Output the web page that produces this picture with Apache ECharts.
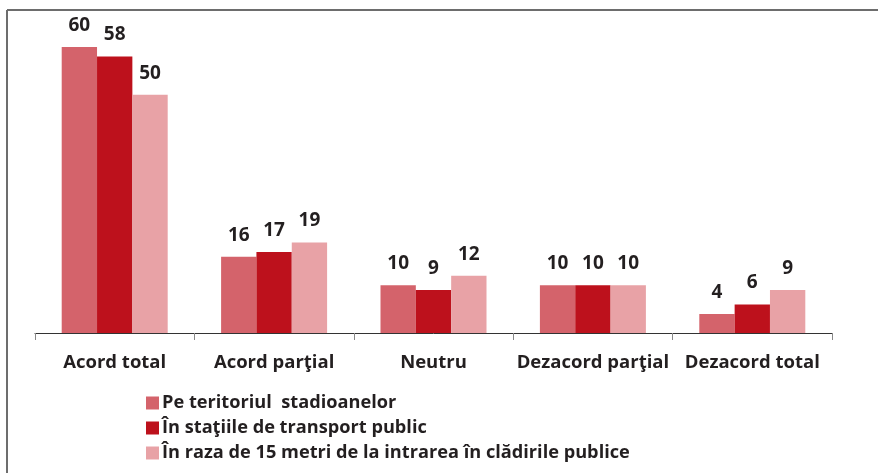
<!DOCTYPE html>
<html><head><meta charset="utf-8">
<script src="https://cdn.jsdelivr.net/npm/echarts@6/dist/echarts.min.js"></script>
<style>html,body{margin:0;padding:0;background:#fff}#c{width:878px;height:473px}</style>
</head><body><div id="c"></div>
<script>
var categories = ['Acord total', 'Acord parţial', 'Neutru', 'Dezacord parţial', 'Dezacord total'];
var seriesNames = ['Pe teritoriul  stadioanelor', 'În staţiile de transport public', 'În raza de 15 metri de la intrarea în clădirile publice'];
var stadioane = [60, 16, 10, 10, 4];
var statii = [58, 17, 9, 10, 6];
var cladiri = [50, 19, 12, 10, 9];
var colors = ['#d4636b', '#bd111c', '#e8a2a6'];
var font = '"Open Sans", "DejaVu Sans", sans-serif';
var chart = echarts.init(document.getElementById('c'));
function mk(name, data, color) {
  return {
    name: name, type: 'bar', data: data, barGap: '0%', barCategoryGap: '33.5%',
    itemStyle: { color: color },
    label: { show: true, position: 'top', distance: 12, color: '#231f20', fontFamily: font, fontWeight: 'bold', fontSize: 19 }
  };
}
chart.setOption({
  animation: false,
  grid: { left: 35, right: 46, top: 47, bottom: 140 },
  graphic: [
    { type: 'line', shape: { x1: 7, y1: 10, x2: 878, y2: 10 }, style: { stroke: '#6d6d6d', lineWidth: 2 } },
    { type: 'line', shape: { x1: 7, y1: 10, x2: 7, y2: 473 }, style: { stroke: '#6d6d6d', lineWidth: 2 } }
  ],
  legend: {
    orient: 'vertical', left: 141, top: 389, itemWidth: 13, itemHeight: 13, itemGap: 7,
    icon: 'rect',
    textStyle: { color: '#231f20', fontFamily: font, fontWeight: 'bold', fontSize: 18.2, padding: [0, 0, 0, -2] },
    data: seriesNames
  },
  xAxis: {
    type: 'category', data: categories,
    axisLine: { lineStyle: { color: '#333', width: 1 } },
    axisTick: { show: true, length: 7, lineStyle: { color: '#888' } },
    axisLabel: { interval: 0, color: '#231f20', fontFamily: font, fontWeight: 'bold', fontSize: 18.5, margin: 20 }
  },
  yAxis: { type: 'value', min: 0, max: 60, show: false, splitLine: { show: false } },
  series: [mk(seriesNames[0], stadioane, colors[0]), mk(seriesNames[1], statii, colors[1]), mk(seriesNames[2], cladiri, colors[2])]
});
</script></body></html>
